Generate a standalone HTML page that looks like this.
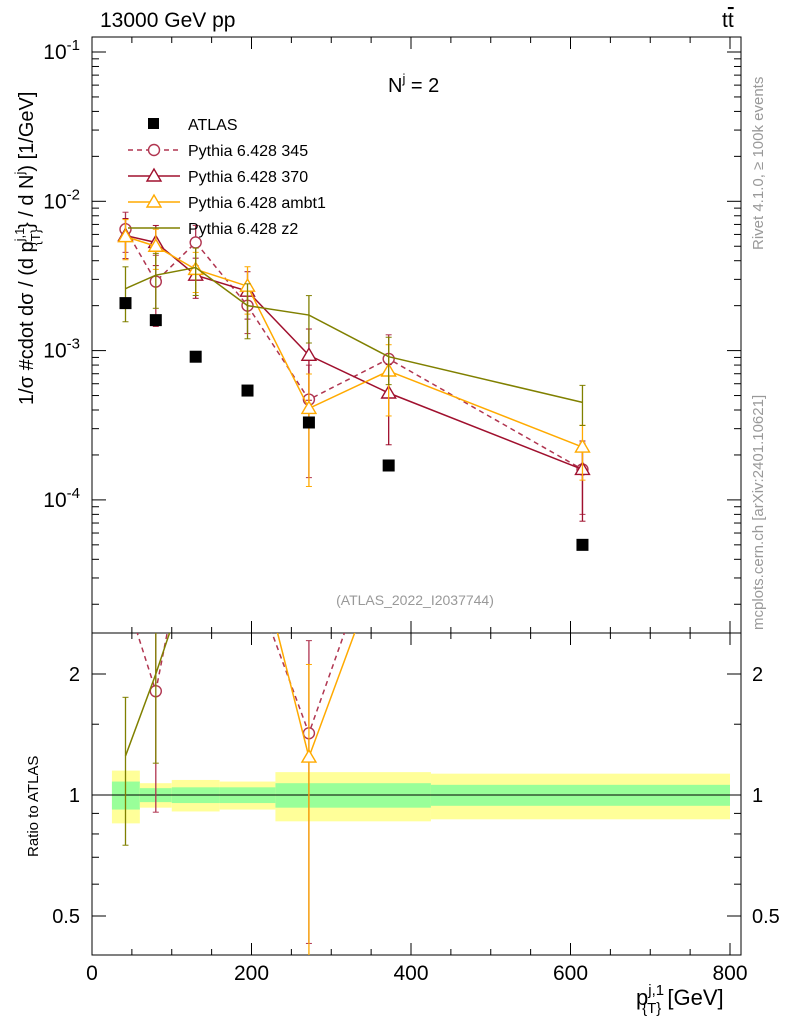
<!DOCTYPE html>
<html><head><meta charset="utf-8"><style>
body{margin:0;background:#fff}
svg{display:block;font-family:"Liberation Sans",sans-serif}
</style></head><body>
<svg id="c" width="786" height="1024" xmlns="http://www.w3.org/2000/svg"></svg>
<script>
const xs=[42,80,130,195,272,372,615];
const binEdges=[25,60,100,160,230,425,800];
const atlas=[2.08e-3,1.6e-3,9.1e-4,5.4e-4,3.3e-4,1.7e-4,5.0e-5];
const bandIn=[0.08,0.04,0.045,0.045,0.07,0.06,0.07];
const bandOut=[0.15,0.07,0.09,0.08,0.14,0.13,0.14];
const s345=[6.5e-3,2.9e-3,5.3e-3,2.0e-3,4.7e-4,8.8e-4,1.6e-4];
const s370=[5.9e-3,5.3e-3,3.2e-3,2.5e-3,9.3e-4,5.2e-4,1.6e-4];
const sAmbt1=[5.8e-3,5.0e-3,3.5e-3,2.7e-3,4.1e-4,7.3e-4,2.26e-4];
const sZ2=[2.6e-3,3.2e-3,3.6e-3,2.0e-3,1.73e-3,9.1e-4,4.5e-4];
const e345=[0.3,0.5,0.3,0.35,0.7,0.45,0.5];
const e370=[0.3,0.3,0.3,0.35,0.5,0.55,0.55];
const eAmbt1=[0.3,0.3,0.3,0.35,0.7,0.5,0.4];
const eZ2=[0.4,0.4,0.35,0.4,0.35,0.35,0.3];
const xTicks=[0,200,400,600,800];
const ratioTicks=[0.5,1,2];

const svg=document.getElementById('c');const NS='http://www.w3.org/2000/svg';
function mk(t,a,p){const e=document.createElementNS(NS,t);for(const k in a)e.setAttribute(k,a[k]);(p||svg).appendChild(e);return e;}
const L=92,R=741,T=37,M=633,B=955;
const X=v=>92+v*0.7975;
const Y=v=>52+(-1-Math.log10(v))*149.3;
const YR=r=>795-Math.log2(r)*121;
const defs=mk('defs',{});
const c1=mk('clipPath',{id:'ct'},defs);mk('rect',{x:L,y:T,width:R-L,height:M-T},c1);
const c2=mk('clipPath',{id:'cb'},defs);mk('rect',{x:L,y:M,width:R-L,height:B-M},c2);
const gb=mk('g',{'clip-path':'url(#cb)'});

for(let i=0;i<atlas.length;i++){
 const x0=X(binEdges[i]),x1=X(binEdges[i+1]);
 const r=mk('rect',{x:x0,y:YR(1+bandOut[i]),width:x1-x0,height:YR(1-bandOut[i])-YR(1+bandOut[i]),fill:'#ffff99'},gb);
 
 const g=mk('rect',{x:x0,y:YR(1+bandIn[i]),width:x1-x0,height:YR(1-bandIn[i])-YR(1+bandIn[i]),fill:'#99ff99'},gb);
 
}
mk('line',{x1:L,x2:R,y1:YR(1),y2:YR(1),stroke:'#000','stroke-width':1},gb);
mk('rect',{x:L,y:T,width:R-L,height:M-T,fill:'none',stroke:'#000'});
mk('rect',{x:L,y:M,width:R-L,height:B-M,fill:'none',stroke:'#000'});
for(let v=0;v<=800;v+=50){const big=v%200==0;const x=X(v);
 mk('line',{x1:x,x2:x,y1:T,y2:T+(big?12:6),stroke:'#000'});
 mk('line',{x1:x,x2:x,y1:M,y2:M-(big?12:6),stroke:'#000'});
 mk('line',{x1:x,x2:x,y1:M,y2:M+(big?12:6),stroke:'#000'});
 mk('line',{x1:x,x2:x,y1:B,y2:B-(big?12:6),stroke:'#000'});}
xTicks.forEach(v=>{const t=mk('text',{x:X(v),y:980,'font-size':21,'text-anchor':'middle'});t.textContent=v;
 });
for(let d=-5;d<=-1;d++)for(let m=1;m<10;m++){const v=m*Math.pow(10,d);const y=Y(v);if(y<T||y>M)continue;
 const w=m==1?14:7;mk('line',{x1:L,x2:L+w,y1:y,y2:y,stroke:'#000'});mk('line',{x1:R,x2:R-w,y1:y,y2:y,stroke:'#000'});}
[-1,-2,-3,-4].forEach(e=>{const t=mk('text',{x:80,y:Y(Math.pow(10,e))+7,'font-size':21,'text-anchor':'end'});
 t.innerHTML='10<tspan dy="-9" font-size="15">'+e+'</tspan>';});
[0.5,0.6,0.7,0.8,0.9,1,1.5,2].forEach(v=>{const y=YR(v);const w=(v==0.5||v==1||v==2)?14:7;
 mk('line',{x1:L,x2:L+w,y1:y,y2:y,stroke:'#000'});mk('line',{x1:R,x2:R-w,y1:y,y2:y,stroke:'#000'});});
ratioTicks.forEach(v=>{[[80,'end'],[752,'start']].forEach(([x,a])=>{const t=mk('text',{x:x,y:YR(v)+7,'font-size':20,'text-anchor':a});t.textContent=v;
 });});
const series=[
 {n:'pythia-345',d:s345,e:e345,c:'#b03550',dash:'5,4',m:'circle'},
 {n:'pythia-370',d:s370,e:e370,c:'#a0102e',dash:'',m:'tri'},
 {n:'pythia-ambt1',d:sAmbt1,e:eAmbt1,c:'#ffaa00',dash:'',m:'tri'},
 {n:'pythia-z2',d:sZ2,e:eZ2,c:'#808000',dash:'',m:'none'}];
function marker(g,m,x,y,c){if(m=='circle')mk('circle',{cx:x,cy:y,r:5.5,fill:'#fff',stroke:c,'stroke-width':1.4},g);
 else if(m=='tri')mk('polygon',{points:`${x},${y-7} ${x-7},${y+5} ${x+7},${y+5}`,fill:'#fff',stroke:c,'stroke-width':1.4},g);}
function drawSeries(s,yf,vals,clip,ratio){
 const g=mk('g',{'clip-path':clip});
 
 mk('polyline',{points:xs.map((x,i)=>X(x)+','+yf(vals[i])).join(' '),fill:'none',stroke:s.c,'stroke-width':1.5,'stroke-dasharray':s.dash},g);
 xs.forEach((x,i)=>{const px=X(x),v=vals[i];
  if(ratio&&yf(v)<M)return;
  const y1=yf(v*(1+s.e[i])),y2=yf(Math.max(v*(1-s.e[i]),1e-9));
  mk('line',{x1:px,x2:px,y1:y1,y2:Math.min(y2,2000),stroke:s.c,'stroke-width':1.3},g);
  mk('line',{x1:px-3,x2:px+3,y1:y1,y2:y1,stroke:s.c},g);mk('line',{x1:px-3,x2:px+3,y1:y2,y2:y2,stroke:s.c},g);
  marker(g,s.m,px,yf(v),s.c);});}
series.forEach(s=>{drawSeries(s,Y,s.d,'url(#ct)',false);drawSeries(s,YR,s.d.map((v,i)=>v/atlas[i]),'url(#cb)',true);});
xs.forEach((x,i)=>{const r=mk('rect',{x:X(x)-6,y:Y(atlas[i])-6,width:12,height:12,fill:'#000'});
 });
const lg=mk('g',{});
const labs=['ATLAS','Pythia 6.428 345','Pythia 6.428 370','Pythia 6.428 ambt1','Pythia 6.428 z2'];
labs.forEach((l,i)=>{const y=124+i*26;
 if(i==0)mk('rect',{x:148,y:y-6,width:11,height:11,fill:'#000'},lg);
 else{const s=series[i-1];mk('line',{x1:128,x2:180,y1:y,y2:y,stroke:s.c,'stroke-width':1.5,'stroke-dasharray':s.dash},lg);
  marker(lg,s.m,154,y,s.c);}
 const t=mk('text',{x:188,y:y+6,'font-size':16},lg);t.textContent=l;});
function txt(s,a,name){const t=mk('text',a);t.innerHTML=s;return t;}
txt('13000 GeV pp',{x:100,y:27,'font-size':21},'title-left');
txt('t<tspan text-decoration="overline">t</tspan>',{x:722,y:27,'font-size':21},'title-right');
txt('N<tspan dy="-9" font-size="13">j</tspan><tspan dy="9"> = 2</tspan>',{x:388,y:92,'font-size':20},'panel-label');
txt('(ATLAS_2022_I2037744)',{x:415,y:605,'font-size':14,fill:'#999','text-anchor':'middle'},'analysis-id');
txt('Rivet 4.1.0, ≥ 100k events',{x:0,y:0,'font-size':15,fill:'#999',transform:'translate(763,250) rotate(-90)'},'rivet-label');
txt('mcplots.cern.ch [arXiv:2401.10621]',{x:0,y:0,'font-size':15,fill:'#999',transform:'translate(763,630) rotate(-90)'},'mcplots-label');
txt('1/σ #cdot dσ / (d p<tspan dy="-9" font-size="13">j,1</tspan><tspan dy="16" dx="-18" font-size="13">{T}</tspan><tspan dy="-7">} / d N</tspan><tspan dy="-9" font-size="13">j</tspan><tspan dy="9">) [1/GeV]</tspan>',{x:0,y:0,'font-size':20,transform:'translate(33,405) rotate(-90)'},'y-axis-title');
txt('Ratio to ATLAS',{x:0,y:0,'font-size':15,transform:'translate(38,857) rotate(-90)'},'ratio-axis-title');
txt('p<tspan dy="-10" font-size="15">j,1</tspan><tspan dy="18" dx="-22" font-size="15">{T}</tspan><tspan dy="-8"> [GeV]</tspan>',{x:636,y:1005,'font-size':22},'x-axis-title');
</script>
</body></html>
